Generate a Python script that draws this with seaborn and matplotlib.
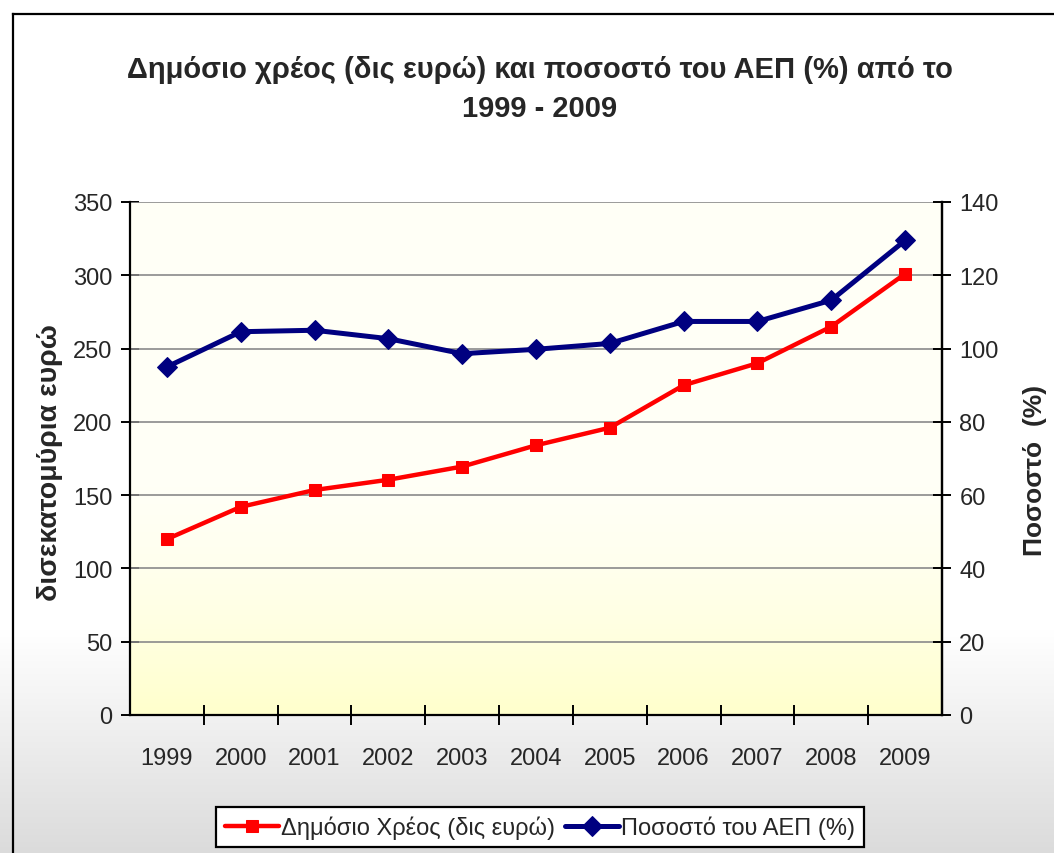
import numpy as np
import pandas as pd
import matplotlib
matplotlib.use("Agg")
import matplotlib.pyplot as plt
import seaborn as sns

# ---------------- data ----------------
years = [1999, 2000, 2001, 2002, 2003, 2004, 2005, 2006, 2007, 2008, 2009]
debt_bn = [120.0, 142.0, 153.5, 160.5, 169.5, 184.0, 196.0, 225.0, 240.0, 265.0, 301.0]
debt_pct_gdp = [95.0, 104.6, 105.0, 102.7, 98.6, 99.8, 101.4, 107.4, 107.4, 113.2, 129.5]
title_line1 = "Δημόσιο χρέος (δις ευρώ) και ποσοστό του ΑΕΠ (%) από το"
title_line2 = "1999 - 2009"
left_label = "δισεκατομύρια ευρώ"
right_label = "Ποσοστό  (%)"
series_debt = "Δημόσιο Χρέος (δις ευρώ)"
series_pct = "Ποσοστό του ΑΕΠ (%)"
left_ticks = [0, 50, 100, 150, 200, 250, 300, 350]
right_ticks = [0, 20, 40, 60, 80, 100, 120, 140]

df = pd.DataFrame({"year": years, "debt": debt_bn, "pct": debt_pct_gdp})

sns.set_theme(style="white")
plt.rcParams["font.family"] = ["Liberation Sans", "DejaVu Sans"]

W, H = 1054, 854
fig = plt.figure(figsize=(W / 100, H / 100), dpi=100)
fig.patch.set_facecolor("white")

# figure background gradient + border
bg = fig.add_axes([0, 0, 1, 1], zorder=-10)
bg.set_xlim(0, 1)
bg.set_ylim(0, 1)
bg.axis("off")
rows = np.linspace(0, 1, 400)  # top -> bottom
vals = np.where(rows < 0.74, 1.0, 1.0 - (rows - 0.74) / 0.26 * 0.14)
img = np.dstack([vals, vals, vals]).reshape(400, 1, 3)
bg.imshow(img, extent=[0, 1, 0, 1], aspect="auto", zorder=0)
bx = 12.5 / W
by = 1 - 14.5 / H
bg.plot([bx, bx], [0, by], color="black", lw=1.6, zorder=2, solid_capstyle="projecting")
bg.plot([bx, 1], [by, by], color="black", lw=1.6, zorder=2, solid_capstyle="projecting")

# axes
pos = [130 / W, 1 - 716 / H, (942 - 130) / W, (716 - 203) / H]
gax = fig.add_axes(pos, zorder=-5)
gax.axis("off")
r = np.linspace(0, 1, 300)
g = np.clip((r - 0.55) / 0.45, 0, 1) ** 1.5
top = np.array([1.0, 1.0, 0.965])
bot = np.array([1.0, 1.0, 0.80])
grad = (top[None, :] * (1 - g[:, None]) + bot[None, :] * g[:, None])[:, None, :]
gax.imshow(grad, extent=[0, 1, 0, 1], aspect="auto")
gax.set_xlim(0, 1)
gax.set_ylim(0, 1)

ax = fig.add_axes(pos)
ax.set_facecolor("none")
sns.lineplot(data=df, x="year", y="debt", ax=ax, color="#FF0000", lw=3.2,
             marker="s", markersize=8, markeredgecolor="#FF0000", legend=False, zorder=3)
ax.set_xlim(1998.5, 2009.5)
ax.set_ylim(0, 350)
ax.set_yticks(left_ticks)
ax.set_yticklabels([str(t) for t in left_ticks])
ax.set_xticks(years)
ax.set_xticklabels([str(y) for y in years])
ax.set_xticks([y + 0.5 for y in years[:-1]], minor=True)
ax.grid(False)
for t in left_ticks[1:]:
    ax.axhline(t, color="#8a8a8a", lw=1.2, zorder=1)
ax.set_xlabel("")
ax.set_ylabel("")
ax.tick_params(axis="x", which="major", length=0, pad=23, labelsize=17)
ax.tick_params(axis="x", which="minor", direction="inout", length=14, width=1.4, color="black", bottom=True)
ax.tick_params(axis="y", which="major", direction="inout", length=13, width=1.4, color="black",
               left=True, pad=6, labelsize=17)
for s in ["left", "bottom", "right"]:
    ax.spines[s].set_color("black")
    ax.spines[s].set_linewidth(1.6)
ax.spines["top"].set_visible(False)

ax2 = ax.twinx()
sns.lineplot(data=df, x="year", y="pct", ax=ax2, color="#000080", lw=3.6,
             marker="D", markersize=10, markeredgecolor="#000080", legend=False, zorder=4)
ax2.set_ylim(0, 140)
ax2.set_yticks(right_ticks)
ax2.set_yticklabels([str(t) for t in right_ticks])
ax2.set_ylabel("")
ax2.tick_params(axis="y", which="major", direction="inout", length=13, width=1.4, color="black",
                right=True, pad=6, labelsize=17)
ax2.spines["right"].set_color("black")
ax2.spines["right"].set_linewidth(1.6)
ax2.spines["top"].set_visible(False)
ax2.spines["left"].set_visible(False)
ax2.spines["bottom"].set_visible(False)
ax2.grid(False)

# titles and labels
fig.text(540 / W, 1 - 70 / H, title_line1, ha="center", va="center", fontsize=21, fontweight="bold")
fig.text(540 / W, 1 - 109 / H, title_line2, ha="center", va="center", fontsize=21, fontweight="bold")
fig.text(50 / W, 1 - 463 / H, left_label, rotation=90, ha="center", va="center",
         fontsize=20.5, fontweight="bold")
fig.text(1035 / W, 1 - 470 / H, right_label, rotation=90, ha="center", va="center",
         fontsize=19, fontweight="bold")

leg = fig.legend([ax.lines[0], ax2.lines[0]], [series_debt, series_pct],
                 loc="upper center", bbox_to_anchor=(540 / W, 1 - 808 / H), ncol=2,
                 fontsize=17, frameon=True, fancybox=False, handlelength=2.3,
                 handletextpad=0.1, columnspacing=0.4, borderpad=0.35, borderaxespad=0)
leg.get_frame().set_edgecolor("black")
leg.get_frame().set_linewidth(1.6)
leg.get_frame().set_facecolor("white")
leg.get_frame().set_alpha(1)

fig.savefig("out.png", dpi=100)
